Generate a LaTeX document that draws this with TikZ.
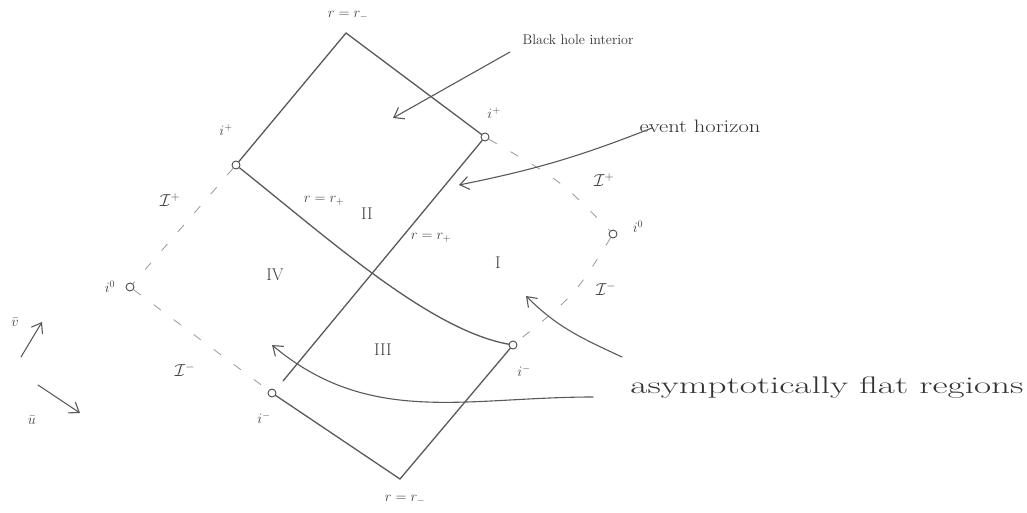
\documentclass[tikz,border=0pt]{standalone}
\usetikzlibrary{arrows.meta}
\begin{document}
\begin{tikzpicture}[x=1pt,y=-1pt,
  wl/.style={draw=black!65, line width=1.3pt, line cap=round},
  dl/.style={draw=black!40, line width=0.8pt, dash pattern=on 9pt off 16pt},
  pt/.style={circle, draw=black!70, line width=0.9pt, inner sep=0pt, minimum size=8pt},
  lab/.style={text=black!75, font=\fontsize{14}{14}\selectfont, inner sep=1pt},
  reg/.style={text=black!75, font=\fontsize{17}{17}\selectfont, inner sep=1pt},
  ann/.style={draw=black!65, line width=1.1pt, line cap=round, -{Straight Barb[length=9pt,width=13pt,line width=1.1pt]}},
  note/.style={text=black!80, inner sep=1pt}]
\useasboundingbox (0,0) rectangle (1027,513);

% vertices and points
\coordinate (top) at (346,33);
\coordinate (bot) at (400,479);
\node[pt] (ipL) at (236,165) {};
\node[pt] (ipR) at (485,137) {};
\node[pt] (i0L) at (130,287) {};
\node[pt] (i0R) at (613,234) {};
\node[pt] (imL) at (272,393) {};
\node[pt] (imR) at (513,345) {};

% solid boundaries
\draw[wl] (top) -- (ipL);
\draw[wl] (top) -- (ipR);
\draw[wl] (ipR) -- (283,381) coordinate (ehend);
\draw[wl] (ipL) .. controls (330,240) and (430,330) .. (imR);
\draw[wl] (imR) -- (bot);
\draw[wl] (bot) -- (imL);

% dashed null infinities
\draw[dl] (ipL) -- (i0L);
\draw[dl] (i0L) -- (imL);
\draw[dl] (ipR) .. controls (560,180) .. (i0R);
\draw[dl] (i0R) .. controls (575,295) .. (imR);

% point labels
\node[lab] (ltop) at (348,16) {$r=r_-$};
\node[lab] (lbot) at (405,500) {$r=r_-$};
\node[lab] (lipL) at (226,130) {$i^+$};
\node[lab] (lipR) at (494,113) {$i^+$};
\node[lab] (li0L) at (110,287) {$i^0$};
\node[lab] (li0R) at (638,227) {$i^0$};
\node[lab] (limL) at (264,418) {$i^-$};
\node[lab] (limR) at (524,371) {$i^-$};
\node[lab] (rpa) at (324,201) {$r=r_+$};
\node[lab] (rpb) at (431,238) {$r=r_+$};

% scri labels
\node[reg] (scpL) at (170,200) {$\mathcal{I}^+$};
\node[reg] (scmL) at (185,370) {$\mathcal{I}^-$};
\node[reg] (scpR) at (604,180) {$\mathcal{I}^+$};
\node[reg] (scmR) at (606,289) {$\mathcal{I}^-$};

% region labels
\node[reg] (rI) at (498,263) {I};
\node[reg] (rII) at (367,214) {II};
\node[reg] (rIII) at (383,350) {III};
\node[reg] (rIV) at (275,275) {IV};

% annotations
\node[note, font=\fontsize{14}{14}\selectfont] (bh) at (578,40) {Black hole interior};
\coordinate (bhs) at (510,52);
\coordinate (bhe) at (393,118);
\draw[ann] (bhs) -- (bhe);

\node[note, font=\fontsize{18}{18}\selectfont] (eh) at (700,126) {\scalebox{1.25}[1]{event horizon}};
\coordinate (ehs) at (652,128);
\coordinate (ehe) at (459,185);
\draw[ann] (ehs) to[bend left=5] (ehe);

\node[note, font=\fontsize{24}{24}\selectfont] (afr) at (827,388) {\scalebox{1.55}[1]{asymptotically flat regions}};
\coordinate (a1s) at (622,357);
\coordinate (a1e) at (526,296);
\draw[ann] (a1s) to[out=155,in=-45] (a1e);
\coordinate (a2s) at (593,397);
\coordinate (a2e) at (272,345);
\draw[ann] (a2s) to[out=180,in=-40] (a2e);

% u v directions
\node[lab] (vl) at (15,322) {$\bar v$};
\node[lab] (ul) at (32,420) {$\bar u$};
\coordinate (vs) at (21,357);
\coordinate (ve) at (42,322);
\coordinate (us) at (38,385);
\coordinate (ue) at (80,413);
\draw[ann] (vs) -- (ve);
\draw[ann] (us) -- (ue);
\end{tikzpicture}
\end{document}
